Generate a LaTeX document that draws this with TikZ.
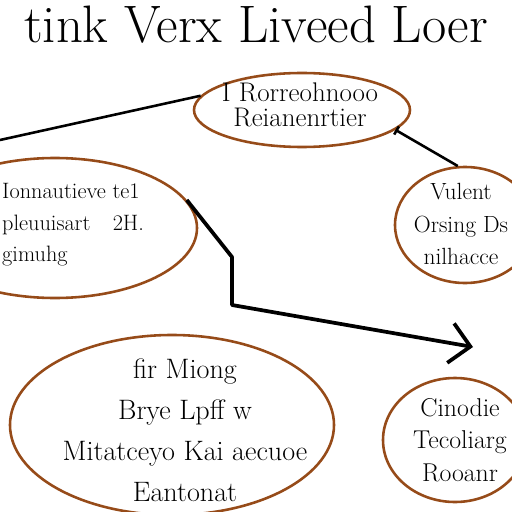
\documentclass[tikz,border=0pt]{standalone}
\usepackage{fontspec}
\usetikzlibrary{shapes.geometric, arrows.meta, positioning}
\definecolor{bubblebrown}{RGB}{150,75,25}

\begin{document}
\begin{tikzpicture}[x=0.03cm, y=-0.03cm]

  \tikzstyle{bubble} = [ellipse, draw=bubblebrown, line width=2.2pt, inner sep=0pt];
  \tikzstyle{link} = [draw, line width=2.2pt];
  \tikzstyle{words} = [align=center, inner sep=0pt];
  \clip (0,0) rectangle (512,512);

  % title across the top
  \node[words, font=\fontsize{45}{50}\selectfont] (title) at (256,25) {tink Verx Liveed Loer};

  % the bubbles
  \node[bubble, minimum width=6.48cm, minimum height=2.22cm] (topbub) at (302,110) {};
  \node[bubble, minimum width=8.52cm, minimum height=4.2cm] (leftbub) at (55,228) {};
  \node[bubble, minimum width=4.2cm, minimum height=3.48cm] (rightbub) at (465,225) {};
  \node[bubble, minimum width=9.72cm, minimum height=5.4cm] (lowleftbub) at (172,425) {};
  \node[bubble, minimum width=4.32cm, minimum height=3.72cm] (lowrightbub) at (455,440) {};

  % their texts
  \node[words, font=\fontsize{23}{21}\selectfont] (toptext) at (300,105)
    {I Rorreohnooo\\Reianenrtier};
  \node[words, align=left, anchor=west, font=\fontsize{19}{27}\selectfont] (lefttext) at (2,225)
    {Ionnautieve te1\\pleuuisart\quad 2H.\\gimuhg};
  \node[words, font=\fontsize{20}{28}\selectfont] (righttext) at (461,224)
    {Vulent\\Orsing Ds\\nilhacce};
  \node[words, font=\fontsize{24}{35}\selectfont] (lowlefttext) at (185,430)
    {fir Miong\\Brye Lpff w\\Mitatceyo Kai aecuoe\\Eantonat};
  \node[words, font=\fontsize{22}{28}\selectfont] (lowrighttext) at (460,440)
    {Cinodie\\Tecoliarg\\Rooanr};

  % connectors
  \coordinate (edgeleft) at (0,140);
  \coordinate (bendA) at (232,257);
  \coordinate (bendB) at (232,305);
  \coordinate (arrowend) at (473,347);
  \draw[link] (edgeleft) -- (topbub.172);
  \draw[link, {Bar[width=8pt]}-] (topbub.348) -- (rightbub.97);
  \draw[line width=3.2pt, line join=round, -{Straight Barb[length=6mm, width=12mm]}]
    (leftbub.12) -- (bendA) -- (bendB) -- (arrowend);
\end{tikzpicture}
\end{document}
